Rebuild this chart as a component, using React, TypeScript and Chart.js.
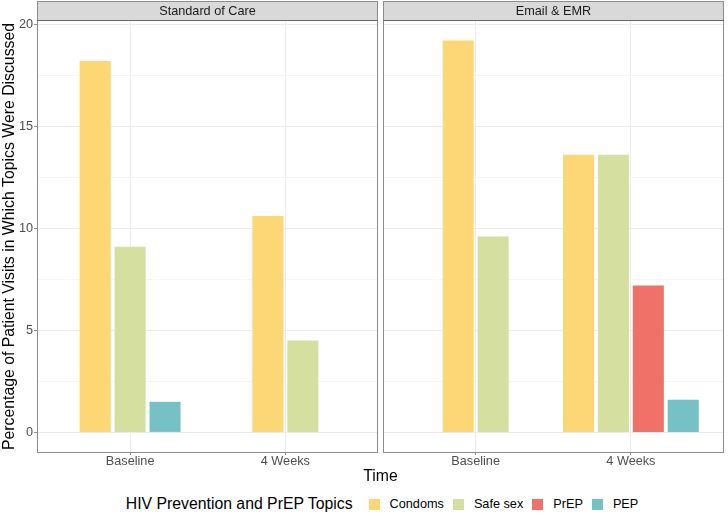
import React, { useEffect, useRef } from 'react';
import { Chart, registerables } from 'chart.js';

Chart.register(...registerables);

// ---- data ----
const PANELS = ['Standard of Care', 'Email & EMR'];
const TIMES = ['Baseline', '4 Weeks'];
const TOPICS = ['Condoms', 'Safe sex', 'PrEP', 'PEP'];
const COLORS = ['#FDD675', '#D5E0A0', '#EF7168', '#75C1C6'];

// values by time [Baseline, 4 Weeks]; null = topic not present
const SOC_CONDOMS = [18.2, 10.6];
const SOC_SAFE_SEX = [9.1, 4.5];
const SOC_PREP = [null, null];
const SOC_PEP = [1.5, null];

const EMR_CONDOMS = [19.2, 13.6];
const EMR_SAFE_SEX = [9.6, 13.6];
const EMR_PREP = [null, 7.2];
const EMR_PEP = [null, 1.6];

const Y_TICKS = [0, 5, 10, 15, 20];

const PANEL_VALUES: (number | null)[][][] = [
  [SOC_CONDOMS, SOC_SAFE_SEX, SOC_PREP, SOC_PEP],
  [EMR_CONDOMS, EMR_SAFE_SEX, EMR_PREP, EMR_PEP],
];

// ---- layout constants (ggplot-like) ----
const EXPAND = 0.6; // discrete axis expansion
const GAP = 0.026; // gap between facet panels (x units)
const DODGE_STEP = 0.9 / TOPICS.length;
const BAR_WIDTH = 0.2;
const PANEL_SPAN = TIMES.length - 1 + 2 * EXPAND + GAP;
const FONT = '"Liberation Sans", Arial, Helvetica, sans-serif';
const SMALL = 12.7;
const BIG = 15.8;
const BORDER = '#8c8c8c';

function buildDatasets() {
  return TOPICS.map((topic, ti) => {
    const pts: { x: number; y: number }[] = [];
    PANEL_VALUES.forEach((panel, p) => {
      TIMES.forEach((_, t) => {
        const present = TOPICS.map((_, k) => panel[k][t]).map((v, k) => (v == null ? -1 : k)).filter((k) => k >= 0);
        const v = panel[ti][t];
        if (v == null) return;
        const j = present.indexOf(ti);
        const off = (j - (present.length - 1) / 2) * DODGE_STEP;
        pts.push({ x: p * PANEL_SPAN + t + 1 + off, y: v });
      });
    });
    return {
      label: topic,
      data: pts,
      backgroundColor: COLORS[ti],
      borderWidth: 0,
      grouped: false,
      categoryPercentage: 1,
      barPercentage: BAR_WIDTH / DODGE_STEP,
    };
  });
}

const facetPlugin = {
  id: 'facets',
  afterDraw(chart: any) {
    const { ctx, chartArea, scales } = chart;
    const x = scales.x;
    const { top, bottom } = chartArea;
    ctx.save();
    const edges = PANELS.map((_, k) => {
      const xl = Math.round(x.getPixelForValue(k * PANEL_SPAN + 1 - EXPAND));
      const xr = Math.round(x.getPixelForValue(k * PANEL_SPAN + TIMES.length + EXPAND));
      return [xl, xr];
    });
    // white gaps between panels
    ctx.fillStyle = '#ffffff';
    for (let k = 0; k < edges.length - 1; k++) {
      ctx.fillRect(edges[k][1], 0, edges[k + 1][0] - edges[k][1], bottom + 1);
    }
    edges.forEach(([xl, xr], k) => {
      // strip
      ctx.fillStyle = '#d9d9d9';
      ctx.fillRect(xl, 1, xr - xl, top - 1);
      ctx.strokeStyle = BORDER;
      ctx.lineWidth = 1;
      ctx.strokeRect(xl + 0.5, 1.5, xr - xl - 1, top - 2);
      ctx.fillStyle = '#1a1a1a';
      ctx.font = `${SMALL}px ${FONT}`;
      ctx.textAlign = 'center';
      ctx.textBaseline = 'middle';
      ctx.fillText(PANELS[k], (xl + xr) / 2, 11.5);
      // panel border
      ctx.strokeStyle = BORDER;
      ctx.strokeRect(xl + 0.5, top - 0.5, xr - xl - 1, bottom - top + 1);
      ctx.strokeStyle = '#666666';
      ctx.beginPath();
      ctx.moveTo(xl, top - 0.5);
      ctx.lineTo(xr, top - 0.5);
      ctx.stroke();
    });
    ctx.restore();
  },
};

export default function App() {
  const canvasRef = useRef<HTMLCanvasElement | null>(null);

  useEffect(() => {
    const canvas = canvasRef.current;
    if (!canvas) return;
    const allValues = PANEL_VALUES.flat(2).filter((v) => v != null) as number[];
    const maxV = Math.max(...allValues);
    const yMin = -0.05 * maxV;
    const yMax = maxV * 1.05;
    const minorTicks: number[] = [];
    for (let i = 0; i < Y_TICKS.length - 1; i++) minorTicks.push((Y_TICKS[i] + Y_TICKS[i + 1]) / 2);
    const allYTicks = [...Y_TICKS, ...minorTicks].sort((a, b) => a - b);
    const isMajor = (v: number) => Y_TICKS.includes(v);

    const chart = new Chart(canvas, {
      type: 'bar',
      data: { datasets: buildDatasets() as any },
      plugins: [facetPlugin],
      options: {
        responsive: false,
        animation: false,
        layout: { padding: { top: 21, right: 4, left: 0, bottom: 0 } },
        plugins: {
          legend: { display: false },
          tooltip: { enabled: false },
          title: { display: false },
        },
        scales: {
          x: {
            type: 'linear',
            offset: false,
            min: 1 - EXPAND,
            max: (PANELS.length - 1) * PANEL_SPAN + TIMES.length + EXPAND,
            afterBuildTicks: (scale: any) => {
              scale.ticks = PANELS.flatMap((_, k) => TIMES.map((_, t) => ({ value: k * PANEL_SPAN + t + 1 })));
            },
            afterFit: (scale: any) => {
              scale.height = 38;
              scale.paddingLeft = 0;
              scale.paddingRight = 0;
            },
            ticks: {
              autoSkip: false,
              maxRotation: 0,
              minRotation: 0,
              padding: 0,
              color: '#4d4d4d',
              font: { family: FONT, size: SMALL, lineHeight: 1 },
              callback: (_v: any, i: number) => TIMES[i % TIMES.length],
            },
            grid: {
              offset: false,
              color: '#ebebeb',
              lineWidth: 1,
              tickLength: 3,
              tickColor: BORDER,
            },
            border: { display: false },
            title: {
              display: true,
              text: 'Time',
              color: '#000000',
              font: { family: FONT, size: BIG },
              padding: { top: 0, bottom: 4 },
            },
          },
          y: {
            type: 'linear',
            min: yMin,
            max: yMax,
            afterBuildTicks: (scale: any) => {
              scale.ticks = allYTicks.map((v) => ({ value: v }));
            },
            afterFit: (scale: any) => {
              scale.width = 37;
            },
            ticks: {
              padding: 1,
              color: '#4d4d4d',
              font: { family: FONT, size: SMALL },
              callback: (v: any) => (isMajor(Number(v)) ? String(v) : ''),
            },
            grid: {
              color: (c: any) => (c.tick && isMajor(c.tick.value) ? '#ebebeb' : '#f4f4f4'),
              lineWidth: 1,
              tickLength: 3,
              tickColor: (c: any) => (c.tick && isMajor(c.tick.value) ? BORDER : 'rgba(0,0,0,0)'),
            },
            border: { display: false },
            title: {
              display: true,
              text: 'Percentage of Patient Visits in Which Topics Were Discussed',
              color: '#000000',
              font: { family: FONT, size: BIG },
              padding: { top: 0, bottom: 0 },
            },
          },
        },
      } as any,
    });
    return () => chart.destroy();
  }, []);

  return (
    <div style={{ position: 'absolute', left: 0, top: 0, width: 728, height: 516, background: '#ffffff', fontFamily: FONT }}>
      <canvas ref={canvasRef} width={728} height={490} style={{ position: 'absolute', left: 0, top: 0, width: 728, height: 490 }} />
      <div
        style={{
          position: 'absolute',
          left: 36,
          width: 692,
          top: 494,
          height: 20,
          display: 'flex',
          justifyContent: 'center',
          alignItems: 'center',
          whiteSpace: 'nowrap',
        }}
      >
        <span style={{ fontSize: BIG, color: '#000', marginRight: 16 }}>HIV Prevention and PrEP Topics</span>
        {TOPICS.map((t, i) => (
          <React.Fragment key={t}>
            <span style={{ display: 'inline-block', width: 11, height: 11, background: COLORS[i], marginRight: 10 }} />
            <span style={{ fontSize: SMALL, color: '#000', marginRight: i < TOPICS.length - 1 ? 9 : 0 }}>{t}</span>
          </React.Fragment>
        ))}
      </div>
    </div>
  );
}
